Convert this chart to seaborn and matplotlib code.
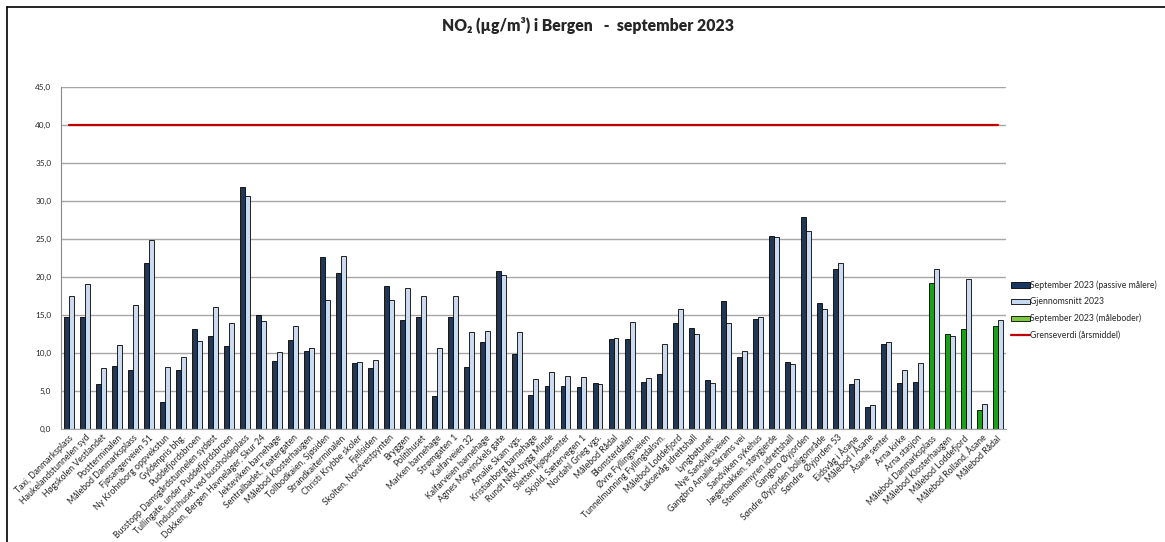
import numpy as np
import pandas as pd
import matplotlib.pyplot as plt
import seaborn as sns
from matplotlib.patches import Patch
from matplotlib.lines import Line2D

# maalesteder (x-akse)
steder = [
    'Taxi, Danmarksplass', 'Haukelandstunnelen syd', 'Høgskolen Vestlandet',
    'Postterminalen', 'Målebod Danmarksplass', 'Fjøsangerveien 51',
    'Ny Krohnborg oppvekstun', 'Gyldenpris bhg.', 'Puddefjordsbroen',
    'Busstopp Damsgårdstunnelen sydøst', 'Tullingate, under Puddefjordsbroen',
    'Industrihuset ved bussholdeplass', 'Dokken, Bergen Havnelager, Skur 24',
    'Jekteviken barnehage', 'Sentralbadet, Teatergaten', 'Målebod Klosterhaugen',
    'Tollbodkaien, Sjøsiden', 'Strandkaiterminalen', 'Christi Krybbe skoler',
    'Fjellsiden', 'Skolten, Nordvestpynten', 'Bryggen', 'Politihuset',
    'Marken barnehage', 'Strømgaten 1', 'Kalfarveien 32', 'Kalfarveien barnehage',
    'Agnes Mowinckels gate', 'Amalie Skam vgs.', 'Kristianborg barnehage',
    'Rundt NRK-bygg Minde', 'Sletten kjøpesenter', 'Skjold, Sætervegen 1',
    'Nordahl Grieg vgs.', 'Målebod Rådal', 'Blomsterdalen', 'Øvre Fyllingsveien',
    'Tunnelmunning Fyllingdalsvn.', 'Målebod Loddefjord', 'Laksevåg idrettshall',
    'Lyngbøtunet', 'Nye Sandviksveien', 'Gangbro Amalie Skrams vei',
    'Sandviken sykehus', 'Jægerbakken, støygjerde', 'Stemmemyren idrettshall',
    'Gangbro Øyjorden', 'Søndre Øyjorden boligområde', 'Søndre  Øyjorden 53',
    'Eidsvåg i Åsane', 'Målebod i Åsane', 'Åsane senter', 'Arna kirke',
    'Arna stasjon', 'Målebod Danmarksplass ', 'Målebod Klosterhaugen ',
    'Målebod Loddefjord ', 'Målebod Rolland, Åsane', 'Målebod Rådal ',
]

# september 2023 (passive maalere + maaleboder til slutt)
september = [
    14.8, 14.8, 5.9, 8.3, 7.7, 21.9, 3.6, 7.7, 13.2, 12.3, 10.9, 31.9, 15.0,
    8.9, 11.7, 10.3, 22.6, 20.5, 8.7, 8.0, 18.8, 14.4, 14.8, 4.3, 14.7, 8.1,
    11.4, 20.8, 9.9, 4.5, 5.7, 5.7, 5.5, 6.0, 11.9, 11.8, 6.2, 7.3, 13.9,
    13.3, 6.5, 16.8, 9.5, 14.5, 25.4, 8.8, 27.9, 16.6, 21.1, 5.9, 2.9, 11.2,
    6.0, 6.2,
    19.2, 12.5, 13.2, 2.5, 13.6,
]
gjennomsnitt = [
    17.5, 19.05, 8.0, 11.0, 16.3, 24.9, 8.2, 9.5, 11.6, 16.1, 14.0, 30.6, 14.2,
    10.1, 13.6, 10.7, 17.0, 22.7, 8.8, 9.1, 17.0, 18.5, 17.5, 10.6, 17.5, 12.8,
    12.9, 20.3, 12.7, 6.6, 7.5, 7.0, 6.8, 5.9, 12.0, 14.1, 6.7, 11.2, 15.8,
    12.5, 6.0, 13.9, 10.3, 14.8, 25.2, 8.6, 26.0, 15.8, 21.8, 6.6, 3.2, 11.4,
    7.8, 8.7,
    21.0, 12.3, 19.7, 3.3, 14.3,
]
n_maaleboder = 5
grenseverdi = 40

serie_sep = 'September 2023'
serie_gj = 'Gjennomsnitt 2023'

df = pd.DataFrame({
    'sted': steder * 2,
    'verdi': september + gjennomsnitt,
    'serie': [serie_sep] * len(steder) + [serie_gj] * len(steder),
})

farge_mork = '#17375e'
farge_lys = '#c6d9f1'
farge_gronn = '#17a317'
farge_gronn_leg = '#7dc840'
farge_rod = '#c00000'

sns.set_style('white')
plt.rcParams['font.family'] = ['Lato', 'DejaVu Sans']

fig = plt.figure(figsize=(11.65, 5.42), dpi=100)
ax = fig.add_axes([0.0524, 0.2085, 0.811, 0.631])

sns.barplot(data=df, x='sted', y='verdi', hue='serie',
            palette={serie_sep: farge_mork, serie_gj: farge_lys},
            width=0.62, edgecolor='black', linewidth=0.6,
            ax=ax, legend=False, order=steder)

# maaleboder i gront
sep_bars = ax.containers[0]
for bar in list(sep_bars)[-n_maaleboder:]:
    bar.set_facecolor(farge_gronn)

# grenseverdi som linje
ax.plot(np.arange(len(steder)), [grenseverdi] * len(steder),
        color=farge_rod, linewidth=1.6, zorder=3)

ax.set_ylim(0, 45)
ax.set_xlim(-0.5, len(steder) - 0.5)
ax.set_yticks(np.arange(0, 46, 5))
ax.set_yticklabels([f'{v:.1f}'.replace('.', ',') for v in np.arange(0, 46, 5)],
                   fontsize=5.9)
ax.yaxis.grid(True, color='#a6a6a6', linewidth=1.0)
ax.set_axisbelow(True)
ax.tick_params(axis='y', length=3, color='#888888', pad=4)
ax.tick_params(axis='x', length=0, pad=3)
ax.set_xticks(np.arange(len(steder)))
ax.set_xticklabels(steder, rotation=45, ha='right', rotation_mode='anchor',
                   fontsize=6.3)
ax.set_xlabel('')
ax.set_ylabel('')
for s in ['top', 'right']:
    ax.spines[s].set_visible(False)
ax.spines['left'].set_color('#888888')
ax.spines['bottom'].set_color('#a6a6a6')

fig.text(0.505, 0.953, 'NO₂ (µg/m³) i Bergen   -  september 2023',
         ha='center', va='center', fontsize=11.3, fontweight='heavy')

handles = [
    Patch(facecolor=farge_mork, edgecolor='black', linewidth=0.6),
    Patch(facecolor=farge_lys, edgecolor='black', linewidth=0.6),
    Patch(facecolor=farge_gronn_leg, edgecolor='black', linewidth=0.6),
    Line2D([0], [0], color=farge_rod, linewidth=1.6),
]
labels = ['September 2023 (passive målere)', 'Gjennomsnitt 2023',
          'September 2023 (måleboder)', 'Grenseverdi (årsmiddel)']
fig.legend(handles, labels, loc='center left', bbox_to_anchor=(0.866, 0.428),
           frameon=False, fontsize=6.2, handlelength=2.1, handleheight=0.55,
           handletextpad=0.1, labelspacing=0.85, borderaxespad=0, borderpad=0.3)

# ramme rundt diagrammet
fig.add_artist(Line2D([7 / 1165, 1], [1 - 7 / 542, 1 - 7 / 542],
                      color='black', linewidth=1.2, transform=fig.transFigure))
fig.add_artist(Line2D([7 / 1165, 7 / 1165], [0, 1 - 7 / 542],
                      color='black', linewidth=1.2, transform=fig.transFigure))

fig.savefig('out.png', dpi=100)
